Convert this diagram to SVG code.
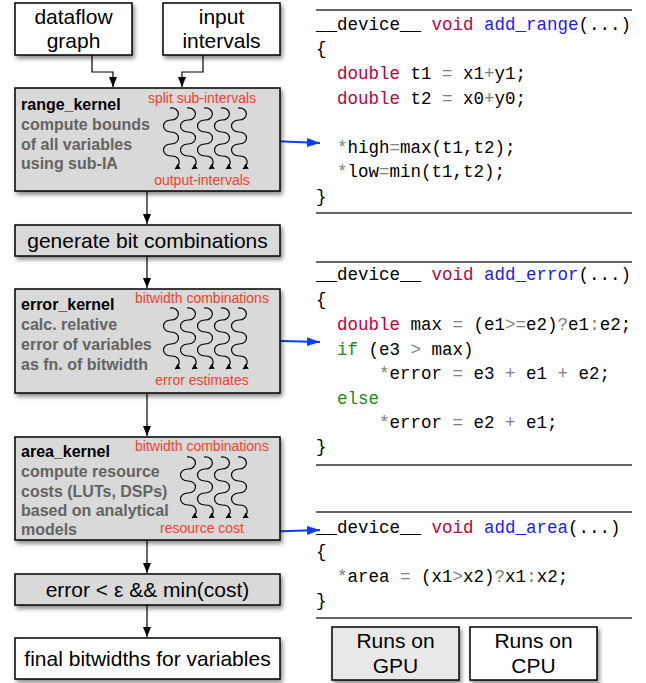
<svg xmlns="http://www.w3.org/2000/svg" xmlns:xlink="http://www.w3.org/1999/xlink" width="646" height="683" viewBox="0 0 646 683">
<style>
.box{stroke:#000;stroke-width:1.5}
.gray{fill:#d9d9d9}
.white{fill:#fff}
.lbl{font-family:"Liberation Sans",Arial,sans-serif;font-size:21px;fill:#000;text-anchor:middle}
.hd{font-family:"Liberation Sans",Arial,sans-serif;font-size:16px;font-weight:bold;fill:#000}
.ds{font-family:"Liberation Sans",Arial,sans-serif;font-size:16px;font-weight:bold;fill:#636363}
.red{font-family:"Liberation Sans",Arial,sans-serif;font-size:14px;fill:#f5402a;text-anchor:middle}
.code{font-family:"Liberation Mono","Courier New",monospace;font-size:17.5px;fill:#000}
.kw{fill:#c0003c}
.fn{fill:#1a1aff}
.gr{fill:#1e8a1e}
.op{fill:#808080}
.rule{stroke:#333;stroke-width:1.5}
.conn{fill:none;stroke:#000;stroke-width:1.2}
.blue{fill:none;stroke:#0a3cff;stroke-width:2}
.sq{fill:none;stroke:#000;stroke-width:1.2}
</style>
<defs>
<filter id="sh" x="-10%" y="-10%" width="130%" height="140%">
<feDropShadow dx="2" dy="3" stdDeviation="2" flood-color="#000" flood-opacity="0.45"/>
</filter>
<marker id="ah" markerUnits="userSpaceOnUse" markerWidth="10" markerHeight="10" refX="10" refY="5" orient="auto">
<path d="M0,1 L10,5 L0,9 z" fill="#000"/>
</marker>
<marker id="ahb" markerUnits="userSpaceOnUse" markerWidth="14" markerHeight="10" refX="13" refY="5" orient="auto">
<path d="M0,0.5 L13,5 L0,9.5 z" fill="#0a3cff"/>
</marker>
<marker id="ahs" markerUnits="userSpaceOnUse" markerWidth="6" markerHeight="6" refX="5" refY="3" orient="auto">
<path d="M0,0 L5,3 L0,6 z" fill="#000"/>
</marker>
<path id="sq" class="sq" d="M-1,0 C10,-1 10,12 0,12 C-10,12 -10,24 0,24 C10,24 10,36 0,36 C-10,36 -10,48 0,48 C10,48 10,57 4,61" marker-end="url(#ahs)"/>
</defs>

<g id="connectors">
<path class="conn" d="M92,55 V72 H113 V87" marker-end="url(#ah)"/>
<path class="conn" d="M203,55 V72 H182 V87" marker-end="url(#ah)"/>
<path class="conn" d="M147,191 V224" marker-end="url(#ah)"/>
<path class="conn" d="M147,256 V288" marker-end="url(#ah)"/>
<path class="conn" d="M147,393 V436" marker-end="url(#ah)"/>
<path class="conn" d="M147,540 V573" marker-end="url(#ah)"/>
<path class="conn" d="M147,605 V637" marker-end="url(#ah)"/>
<path class="blue" d="M247,140 L320,143" marker-end="url(#ahb)"/>
<path class="blue" d="M247,340 L320,342" marker-end="url(#ahb)"/>
<path class="blue" d="M258,532 L320,530" marker-end="url(#ahb)"/>
</g>

<g id="dataflow">
<rect class="box white" x="15" y="3" width="117" height="52" filter="url(#sh)"/>
<text class="lbl" x="73.5" y="24">dataflow</text>
<text class="lbl" x="73.5" y="48">graph</text>
</g>
<g id="input">
<rect class="box white" x="163" y="3" width="117" height="52" filter="url(#sh)"/>
<text class="lbl" x="221.5" y="24">input</text>
<text class="lbl" x="221.5" y="48">intervals</text>
</g>

<g id="range_kernel">
<rect class="box gray" x="15" y="88" width="265" height="103" filter="url(#sh)"/>
<text class="hd" x="21" y="110">range_kernel</text>
<text class="ds" x="21" y="130">compute bounds</text>
<text class="ds" x="21" y="149.5">of all variables</text>
<text class="ds" x="21" y="169">using sub-IA</text>
<text class="red" x="202" y="103">split sub-intervals</text>
<text class="red" x="202" y="185">output-intervals</text>
<use xlink:href="#sq" x="171" y="108"/>
<use xlink:href="#sq" x="188" y="108"/>
<use xlink:href="#sq" x="205" y="108"/>
<use xlink:href="#sq" x="222" y="108"/>
<use xlink:href="#sq" x="239" y="108"/>
</g>

<g id="generate">
<rect class="box gray" x="15" y="225" width="265" height="31" filter="url(#sh)"/>
<text class="lbl" x="147.5" y="248">generate bit combinations</text>
</g>

<g id="error_kernel">
<rect class="box gray" x="15" y="289" width="265" height="104" filter="url(#sh)"/>
<text class="hd" x="21" y="310">error_kernel</text>
<text class="ds" x="21" y="330">calc. relative</text>
<text class="ds" x="21" y="350">error of variables</text>
<text class="ds" x="21" y="370">as fn. of bitwidth</text>
<text class="red" x="202" y="303">bitwidth combinations</text>
<text class="red" x="202" y="385">error estimates</text>
<use xlink:href="#sq" x="171" y="308"/>
<use xlink:href="#sq" x="188" y="308"/>
<use xlink:href="#sq" x="205" y="308"/>
<use xlink:href="#sq" x="222" y="308"/>
<use xlink:href="#sq" x="239" y="308"/>
</g>

<g id="area_kernel">
<rect class="box gray" x="15" y="437" width="265" height="103" filter="url(#sh)"/>
<text class="hd" x="21" y="457">area_kernel</text>
<text class="ds" x="21" y="477">compute resource</text>
<text class="ds" x="21" y="496.5">costs (LUTs, DSPs)</text>
<text class="ds" x="21" y="516">based on analytical</text>
<text class="ds" x="21" y="535">models</text>
<text class="red" x="202" y="451">bitwidth combinations</text>
<text class="red" x="202" y="533">resource cost</text>
<use xlink:href="#sq" x="188" y="457"/>
<use xlink:href="#sq" x="205" y="457"/>
<use xlink:href="#sq" x="222" y="457"/>
<use xlink:href="#sq" x="239" y="457"/>
</g>

<g id="condition">
<rect class="box gray" x="15" y="574" width="265" height="31" filter="url(#sh)"/>
<text class="lbl" x="147.5" y="597">error &lt; ε &amp;&amp; min(cost)</text>
</g>

<g id="final">
<rect class="box white" x="15" y="638" width="265" height="41" filter="url(#sh)"/>
<text class="lbl" x="147.5" y="666">final bitwidths for variables</text>
</g>

<g id="code_range">
<line class="rule" x1="316" y1="10" x2="632" y2="10"/>
<text class="code" x="316" y="30" xml:space="preserve">__device__ <tspan class="kw">void</tspan> <tspan class="fn">add_range</tspan>(...)</text>
<text class="code" x="316" y="54">{</text>
<text class="code" x="337" y="79" xml:space="preserve"><tspan class="kw">double</tspan> t1 <tspan class="op">=</tspan> x1<tspan class="op">+</tspan>y1;</text>
<text class="code" x="337" y="103.5" xml:space="preserve"><tspan class="kw">double</tspan> t2 <tspan class="op">=</tspan> x0<tspan class="op">+</tspan>y0;</text>
<text class="code" x="337" y="152.5" xml:space="preserve"><tspan class="op">*</tspan>high<tspan class="op">=</tspan>max(t1,t2);</text>
<text class="code" x="337" y="177" xml:space="preserve"><tspan class="op">*</tspan>low<tspan class="op">=</tspan>min(t1,t2);</text>
<text class="code" x="316" y="201.5">}</text>
<line class="rule" x1="316" y1="213" x2="632" y2="213"/>
</g>

<g id="code_error">
<line class="rule" x1="316" y1="262" x2="632" y2="262"/>
<text class="code" x="316" y="280" xml:space="preserve">__device__ <tspan class="kw">void</tspan> <tspan class="fn">add_error</tspan>(...)</text>
<text class="code" x="316" y="304.5">{</text>
<text class="code" x="337" y="329.5" xml:space="preserve"><tspan class="kw">double</tspan> max <tspan class="op">=</tspan> (e1<tspan class="op">&gt;=</tspan>e2)<tspan class="op">?</tspan>e1<tspan class="op">:</tspan>e2;</text>
<text class="code" x="337" y="354.5" xml:space="preserve"><tspan class="gr">if</tspan> (e3 <tspan class="op">&gt;</tspan> max)</text>
<text class="code" x="379" y="379" xml:space="preserve"><tspan class="op">*</tspan>error <tspan class="op">=</tspan> e3 <tspan class="op">+</tspan> e1 <tspan class="op">+</tspan> e2;</text>
<text class="code gr" x="337" y="403.5">else</text>
<text class="code" x="379" y="428" xml:space="preserve"><tspan class="op">*</tspan>error <tspan class="op">=</tspan> e2 <tspan class="op">+</tspan> e1;</text>
<text class="code" x="316" y="452">}</text>
<line class="rule" x1="316" y1="465" x2="632" y2="465"/>
</g>

<g id="code_area">
<line class="rule" x1="316" y1="512" x2="632" y2="512"/>
<text class="code" x="316" y="533" xml:space="preserve">__device__ <tspan class="kw">void</tspan> <tspan class="fn">add_area</tspan>(...)</text>
<text class="code" x="316" y="557">{</text>
<text class="code" x="337" y="582" xml:space="preserve"><tspan class="op">*</tspan>area <tspan class="op">=</tspan> (x1<tspan class="op">&gt;</tspan>x2)<tspan class="op">?</tspan>x1<tspan class="op">:</tspan>x2;</text>
<text class="code" x="316" y="605.5">}</text>
<line class="rule" x1="316" y1="618" x2="632" y2="618"/>
</g>

<g id="legend_gpu">
<rect class="box" x="332" y="627" width="127" height="53" fill="#e8e8e8" filter="url(#sh)"/>
<text class="lbl" x="395.5" y="648">Runs on</text>
<text class="lbl" x="395.5" y="673">GPU</text>
</g>
<g id="legend_cpu">
<rect class="box white" x="470" y="627" width="127" height="53" filter="url(#sh)"/>
<text class="lbl" x="533.5" y="648">Runs on</text>
<text class="lbl" x="533.5" y="673">CPU</text>
</g>
</svg>
